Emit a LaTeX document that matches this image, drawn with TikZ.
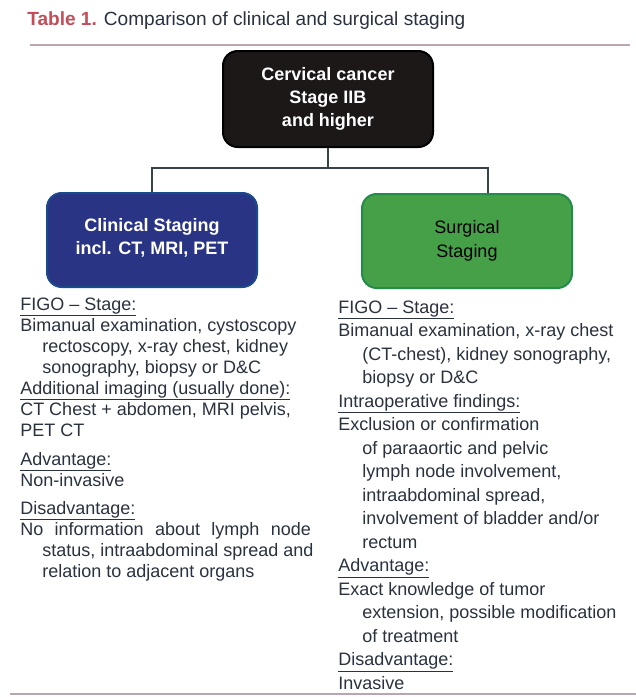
\documentclass[tikz,border=0pt]{standalone}
\usepackage{fontspec}
\setmainfont{Liberation Sans}

\definecolor{rulegray}{RGB}{186,166,178}
\definecolor{titlered}{RGB}{196,78,88}
\definecolor{boxblack}{RGB}{28,24,24}
\definecolor{boxnavy}{RGB}{42,52,132}
\definecolor{navyedge}{RGB}{26,74,140}
\definecolor{boxgreen}{RGB}{70,160,72}
\definecolor{greenedge}{RGB}{36,140,74}
\definecolor{linkgray}{RGB}{55,66,74}
\definecolor{textgray}{RGB}{42,50,64}

\begin{document}
\begin{tikzpicture}[x=0.75pt, y=-0.75pt, font=\fontsize{13.5}{16}\selectfont,
    stagebox/.style={draw, line width=1.5pt, rounded corners=11pt, align=center,
      minimum width=157.5pt, minimum height=70.5pt, inner sep=0pt},
    link/.style={draw=linkgray, line width=1.6pt},
    body/.style={anchor=base west, inner sep=0pt, text=textgray},
    rulebar/.style={draw=rulegray, line width=2.2pt}]
  \useasboundingbox[fill=white] (0,0) rectangle (636,697);

  % title and rules
  \node[body, font=\fontsize{14.3}{16}\selectfont] (title) at (27,25)
    {{\color{titlered}\bfseries Table 1.} Comparison of clinical and surgical staging};
  \draw[rulebar] (30,45) -- (630,45);
  \draw[rulebar] (10,694) -- (636,694);

  % boxes
  \node[stagebox, fill=boxblack, draw=black, text=white, font=\fontsize{13.5}{17.5}\selectfont\bfseries,
    minimum height=72pt] (cancer) at (328,99) {Cervical cancer\\Stage IIB\\and higher};
  \node[stagebox, fill=boxnavy, draw=navyedge, text=white, font=\fontsize{13.5}{17}\selectfont\bfseries,
    text depth=5pt] (clinical) at (152,240) {Clinical Staging\\incl. CT, MRI, PET};
  \node[stagebox, fill=boxgreen, draw=greenedge, text=black, font=\fontsize{13.5}{17.5}\selectfont]
    (surgical) at (467,241) {Surgical\\Staging};

  \coordinate (split) at (328,168);
  \draw[link] (cancer) -- (split);
  \draw[link] (split) -| (clinical.north);
  \draw[link] (split) -| ([xshift=15.75pt]surgical.north);

  % clinical staging column
  \foreach \y/\t [count=\i] in {310/{FIGO -- Stage:}, 394/{Additional imaging (usually done):},
      465/{Advantage:}, 514/{Disadvantage:}} {
    \node[body] (lh\i) at (20,\y) {\underline{\t}};
  }
  \foreach \x/\y/\t [count=\i] in {20/331/{Bimanual examination, cystoscopy},
      42/352/{rectoscopy, x-ray chest, kidney},
      42/373/{sonography, biopsy or D\&C},
      20/415/{CT Chest + abdomen, MRI pelvis,},
      20/436/{PET CT},
      20/486/{Non-invasive},
      20/535/{\makebox[218pt][s]{No information about lymph node}},
      42/556/{status, intraabdominal spread and},
      42/577/{relation to adjacent organs}} {
    \node[body] (lt\i) at (\x,\y) {\t};
  }

  % surgical staging column
  \foreach \y/\t [count=\i] in {313/{FIGO -- Stage:}, 407/{Intraoperative findings:},
      571.5/{Advantage:}, 665.5/{Disadvantage:}} {
    \node[body] (rh\i) at (338,\y) {\underline{\t}};
  }
  \foreach \x/\y/\t [count=\i] in {338/336.5/{Bimanual examination, x-ray chest},
      362/360/{(CT-chest), kidney sonography,},
      362/383.5/{biopsy or D\&C},
      338/430.5/{Exclusion or confirmation},
      362/454/{of paraaortic and pelvic},
      362/477.5/{lymph node involvement,},
      362/501/{intraabdominal spread,},
      362/524.5/{involvement of bladder and/or},
      362/548/{rectum},
      338/595/{Exact knowledge of tumor},
      362/618.5/{extension, possible modification},
      362/642/{of treatment},
      338/689/{Invasive}} {
    \node[body] (rt\i) at (\x,\y) {\t};
  }
\end{tikzpicture}
\end{document}
